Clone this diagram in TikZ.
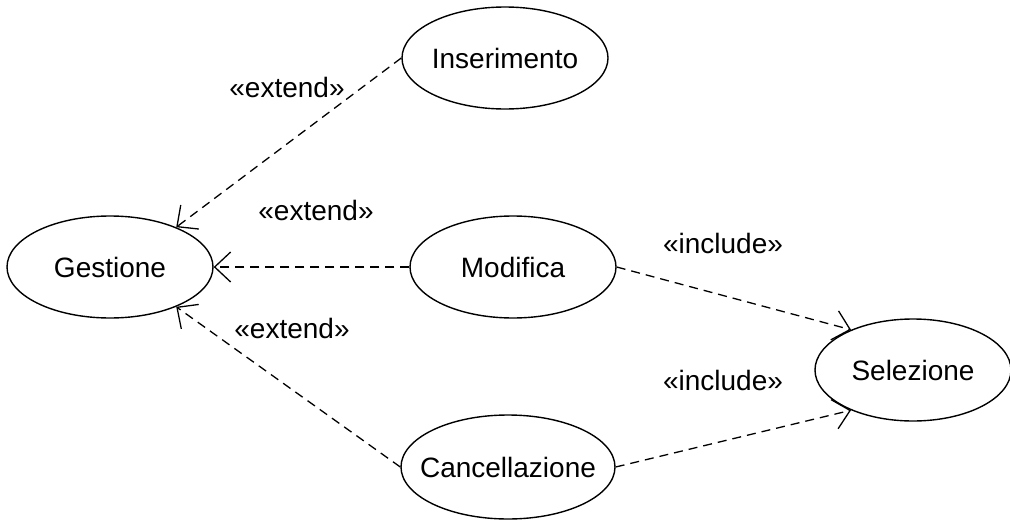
\documentclass[tikz,border=0pt]{standalone}
\usepackage{fontspec}
\setmainfont{Liberation Sans}
\usetikzlibrary{shapes.geometric,arrows.meta}
\newcommand{\uctext}[1]{\makebox[0pt]{#1}}
\begin{document}
\begin{tikzpicture}[x=1pt,y=-1pt,
  uc/.style={ellipse,draw,line width=1.4pt,minimum width=206pt,minimum height=102pt,inner sep=0pt,font=\fontsize{28}{32}\selectfont},
  rel/.style={line width=1.3pt,dash pattern=on 9pt off 6pt,-{Straight Barb[length=16pt,width=30pt,line width=1.3pt]}},
  lbl/.style={font=\fontsize{28}{32}\selectfont,inner sep=0pt}]
\useasboundingbox (0,0) rectangle (1010,522);
\node[uc] (ges) at (110,267) {\uctext{Gestione}};
\node[uc] (ins) at (505,58) {\uctext{Inserimento}};
\node[uc] (mod) at (513,267) {\uctext{Modifica}};
\node[uc,minimum width=214pt,minimum height=104pt] (can) at (508,467) {\uctext{Cancellazione}};
\node[uc,minimum width=196pt] (sel) at (913,370) {\uctext{Selezione}};
\draw[rel] (ins.west) -- (ges.31.6);
\draw[rel] (mod.west) -- (ges.east);
\draw[rel] (can.west) -- (ges.-31.6);
\draw[rel] (mod.east) -- (sel.147);
\draw[rel] (can.east) -- (sel.213);
\node[lbl] (l1) at (287,87) {«extend»};
\node[lbl] (l2) at (316,210) {«extend»};
\node[lbl] (l3) at (292,328) {«extend»};
\node[lbl] (l4) at (723,243) {«include»};
\node[lbl] (l5) at (723,380) {«include»};
\end{tikzpicture}
\end{document}
